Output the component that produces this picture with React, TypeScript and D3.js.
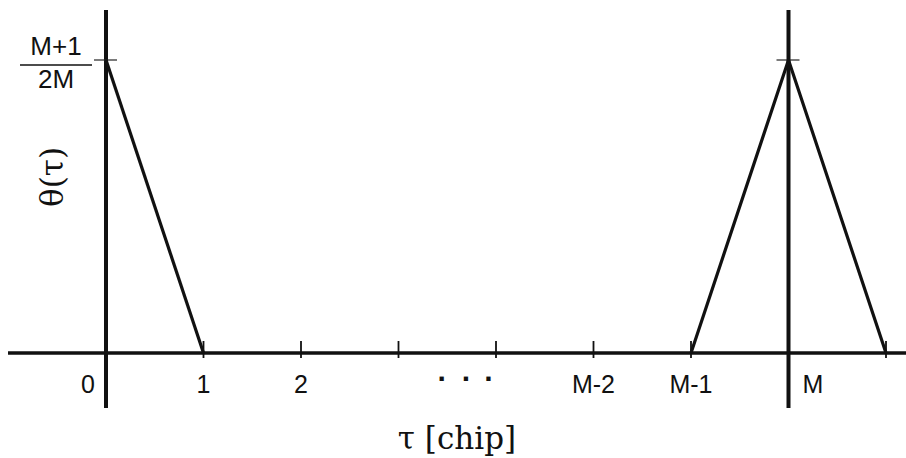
import React, { useRef, useEffect } from 'react';
import * as d3 from 'd3';

// tau positions (in chip units, index along the axis) and tick labels
const tickPositions = [0, 1, 2, 3, 4, 5, 6, 7, 8];
const tickLabels = ['0', '1', '2', '', '', 'M-2', 'M-1', 'M', ''];
// the "· · ·" ellipsis between 2 and M-2
const dotPositions = [3.45, 3.7, 3.93];

// theta(tau), normalised so that the peak (M+1)/2M = 1
const leftPeak = [
  { tau: 0, theta: 1 },
  { tau: 1, theta: 0 },
];
const rightPeak = [
  { tau: 6, theta: 0 },
  { tau: 7, theta: 1 },
  { tau: 8, theta: 0 },
];
const verticalAxesAt = [0, 7];

const W = 906;
const H = 458;

const App: React.FC = () => {
  const svgRef = useRef<SVGSVGElement>(null);

  useEffect(() => {
    if (!svgRef.current) return;
    const svg = d3.select(svgRef.current);
    svg.selectAll('*').remove();

    const x = d3.scaleLinear().domain([0, 8]).range([106, 886]);
    const y = d3.scaleLinear().domain([0, 1]).range([353, 60]);
    const sans = '"Liberation Sans", Arial, sans-serif';

    // horizontal axis
    svg.append('line')
      .attr('x1', x(-1.005)).attr('x2', W)
      .attr('y1', y(0)).attr('y2', y(0))
      .attr('stroke', '#111').attr('stroke-width', 3.5);

    // ticks
    svg.selectAll('line.tick')
      .data(tickPositions)
      .enter()
      .append('line')
      .attr('class', 'tick')
      .attr('x1', d => x(d)).attr('x2', d => x(d))
      .attr('y1', y(0) - 12).attr('y2', y(0) + 5)
      .attr('stroke', '#111').attr('stroke-width', 1.8);

    // vertical axes (at 0 and M)
    svg.selectAll('line.vaxis')
      .data(verticalAxesAt)
      .enter()
      .append('line')
      .attr('class', 'vaxis')
      .attr('x1', d => x(d)).attr('x2', d => x(d))
      .attr('y1', 10).attr('y2', 408)
      .attr('stroke', '#111').attr('stroke-width', 4);

    // peak ticks
    svg.selectAll('line.peak')
      .data(verticalAxesAt)
      .enter()
      .append('line')
      .attr('class', 'peak')
      .attr('x1', d => x(d) - 12).attr('x2', d => x(d) + 11)
      .attr('y1', y(1)).attr('y2', y(1))
      .attr('stroke', '#222').attr('stroke-width', 1.2);

    const line = d3.line<{ tau: number; theta: number }>()
      .x(d => x(d.tau))
      .y(d => y(d.theta));

    [leftPeak, rightPeak].forEach(seg => {
      svg.append('path')
        .attr('d', line(seg)!)
        .attr('fill', 'none')
        .attr('stroke', '#111')
        .attr('stroke-width', 3.2)
        .attr('stroke-linejoin', 'miter');
    });

    // tick labels
    svg.selectAll('text.tl')
      .data(tickPositions.filter(d => tickLabels[d] !== ''))
      .enter()
      .append('text')
      .attr('class', 'tl')
      .attr('x', d => (d === 0 ? x(d) - 18 : d === 7 ? x(d) + 14 : x(d)))
      .attr('y', y(0) + 40)
      .attr('text-anchor', d => (d === 0 ? 'middle' : d === 7 ? 'start' : 'middle'))
      .style('font-family', sans)
      .style('font-size', '25px')
      .style('fill', '#111')
      .text(d => tickLabels[d]);

    // dots
    svg.selectAll('text.dot')
      .data(dotPositions)
      .enter()
      .append('text')
      .attr('class', 'dot')
      .attr('x', d => x(d))
      .attr('y', y(0) + 36)
      .attr('text-anchor', 'middle')
      .style('font-family', sans)
      .style('font-size', '30px')
      .style('font-weight', 'bold')
      .style('fill', '#111')
      .text('·');

    // peak value label (M+1)/2M
    svg.append('text')
      .attr('x', 56).attr('y', 55)
      .attr('text-anchor', 'middle')
      .style('font-family', sans)
      .style('font-size', '26px')
      .style('fill', '#111')
      .text('M+1');
    svg.append('line')
      .attr('x1', 20).attr('x2', 92)
      .attr('y1', 65).attr('y2', 65)
      .attr('stroke', '#111').attr('stroke-width', 1.5);
    svg.append('text')
      .attr('x', 56).attr('y', 88)
      .attr('text-anchor', 'middle')
      .style('font-family', sans)
      .style('font-size', '26px')
      .style('fill', '#111')
      .text('2M');

    // axis titles
    svg.append('text')
      .attr('x', 457).attr('y', 449)
      .attr('text-anchor', 'middle')
      .style('font-family', '"DejaVu Serif", "Liberation Serif", serif')
      .style('font-size', '31px')
      .style('fill', '#111')
      .text('τ [chip]');

    svg.append('text')
      .attr('transform', 'translate(63,177) rotate(-90)')
      .attr('text-anchor', 'middle')
      .style('font-family', '"DejaVu Serif", serif')
      .style('font-size', '31px')
      .style('fill', '#111')
      .text('θ(τ)');
  }, []);

  return (
    <svg
      ref={svgRef}
      width={W}
      height={H}
      style={{ position: 'absolute', left: 0, top: 0, background: '#fff' }}
    />
  );
};

export default App;
